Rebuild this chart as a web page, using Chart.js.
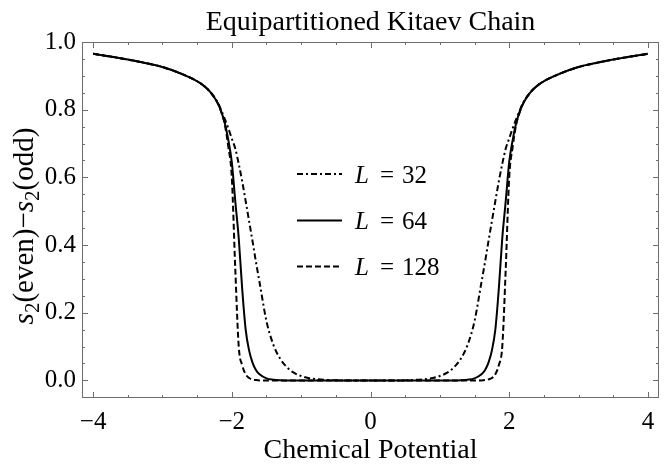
<!DOCTYPE html>
<html>
<head>
<meta charset="utf-8">
<script src="https://cdn.jsdelivr.net/npm/chart.js@4.4.1/dist/chart.umd.min.js"></script>
<style>
  body { margin: 0; background: #fff; }
  #wrap { width: 667px; height: 468px; position: relative; }
</style>
</head>
<body>
<div id="wrap"><canvas id="chart"></canvas></div>
<script>
// ---- data ----
const mu = [-4, -3.75, -3.5, -3.25, -3, -2.75, -2.5, -2.4, -2.3, -2.2, -2.15, -2.1, -2.05, -2, -1.95, -1.9, -1.85, -1.8, -1.75, -1.7, -1.65, -1.6, -1.5, -1.4, -1.3, -1.2, -1.1, -1, -0.9, -0.8, -0.6, -0.4, -0.2,
  0, 0.2, 0.4, 0.6, 0.8, 0.9, 1, 1.1, 1.2, 1.3, 1.4, 1.5, 1.6, 1.65, 1.7, 1.75, 1.8, 1.85, 1.9, 1.95, 2, 2.05, 2.1, 2.15, 2.2, 2.3, 2.4, 2.5, 2.75, 3, 3.25, 3.5, 3.75, 4];

const L32 = [0.965, 0.957, 0.948, 0.938, 0.926, 0.908, 0.884, 0.870, 0.850, 0.820, 0.797, 0.772, 0.745, 0.715, 0.685, 0.640, 0.588, 0.530, 0.470, 0.410, 0.348, 0.290, 0.175, 0.105, 0.063, 0.038, 0.022, 0.013, 0.007, 0.004, 0.001, 0, 0,
  0, 0, 0, 0.001, 0.004, 0.007, 0.013, 0.022, 0.038, 0.063, 0.105, 0.175, 0.290, 0.348, 0.410, 0.470, 0.530, 0.588, 0.640, 0.685, 0.715, 0.745, 0.772, 0.797, 0.820, 0.850, 0.870, 0.884, 0.908, 0.926, 0.938, 0.948, 0.957, 0.965];

const L64 = [0.965, 0.957, 0.948, 0.938, 0.926, 0.908, 0.884, 0.870, 0.850, 0.818, 0.793, 0.760, 0.710, 0.645, 0.530, 0.420, 0.270, 0.150, 0.088, 0.052, 0.030, 0.018, 0.006, 0.002, 0.0005, 0, 0, 0, 0, 0, 0, 0, 0,
  0, 0, 0, 0, 0, 0, 0, 0, 0, 0.0005, 0.002, 0.006, 0.018, 0.030, 0.052, 0.088, 0.150, 0.270, 0.420, 0.530, 0.645, 0.710, 0.760, 0.793, 0.818, 0.850, 0.870, 0.884, 0.908, 0.926, 0.938, 0.948, 0.957, 0.965];

const L128 = [0.965, 0.957, 0.948, 0.938, 0.926, 0.908, 0.884, 0.870, 0.850, 0.818, 0.792, 0.755, 0.690, 0.600, 0.330, 0.100, 0.045, 0.018, 0.007, 0.003, 0.001, 0, 0, 0, 0, 0, 0, 0, 0, 0, 0, 0, 0,
  0, 0, 0, 0, 0, 0, 0, 0, 0, 0, 0, 0, 0, 0.001, 0.003, 0.007, 0.018, 0.045, 0.100, 0.330, 0.600, 0.690, 0.755, 0.792, 0.818, 0.850, 0.870, 0.884, 0.908, 0.926, 0.938, 0.948, 0.957, 0.965];

const sizes = ['32', '64', '128'];
const xTicks = [-4, -2, 0, 2, 4];
const yTicks = [0, 0.2, 0.4, 0.6, 0.8, 1.0];

const SERIF = '"Liberation Serif", "Times New Roman", serif';

function pts(ys) {
    return mu.map((x, i) => ({ x: x, y: ys[i] }));
}

// frame, inward ticks, titles and the legend box (Mathematica style)
const decor = {
    id: 'decor',
    afterDatasetsDraw(chart) {
        const ctx = chart.ctx;
        const a = chart.chartArea;
        const xs = chart.scales.x, ys = chart.scales.y;
        ctx.save();

        // frame
        ctx.strokeStyle = '#6e6e6e';
        ctx.lineWidth = 1;
        ctx.strokeRect(a.left + 0.5, a.top + 0.5, a.right - a.left - 1, a.bottom - a.top - 1);

        // x ticks, minor every 0.5
        ctx.beginPath();
        for (let v = -4; v <= 4.001; v += 0.5) {
            const px = Math.round(xs.getPixelForValue(v)) + 0.5;
            const len = (Math.abs(v % 2) < 1e-6) ? 6 : 3;
            ctx.moveTo(px, a.bottom); ctx.lineTo(px, a.bottom - len);
            ctx.moveTo(px, a.top); ctx.lineTo(px, a.top + len);
        }
        // y ticks, minor every 0.05
        for (let k = -1; k <= 20; k++) {
            const v = k * 0.05;
            const py = Math.round(ys.getPixelForValue(v)) + 0.5;
            const len = (k % 4 === 0) ? 6 : 3;
            ctx.moveTo(a.left, py); ctx.lineTo(a.left + len, py);
            ctx.moveTo(a.right, py); ctx.lineTo(a.right - len, py);
        }
        ctx.stroke();

        ctx.fillStyle = '#000';
        // title
        ctx.font = '28px ' + SERIF;
        ctx.textAlign = 'center';
        ctx.textBaseline = 'alphabetic';
        ctx.fillText('Equipartitioned Kitaev Chain', (a.left + a.right) / 2, 30);

        // x title
        ctx.fillText('Chemical Potential', (a.left + a.right) / 2, 458);

        // y title: s2(even)-s2(odd) with italic s and subscript 2
        const parts = [
            { t: 's', f: 'italic 29px ' + SERIF, dy: 0 },
            { t: '2', f: '21px ' + SERIF, dy: 6 },
            { t: '(even)\u2212', f: '29px ' + SERIF, dy: 0 },
            { t: 's', f: 'italic 29px ' + SERIF, dy: 0 },
            { t: '2', f: '21px ' + SERIF, dy: 6 },
            { t: '(odd)', f: '29px ' + SERIF, dy: 0 }
        ];
        let total = 0;
        parts.forEach(p => { ctx.font = p.f; p.w = ctx.measureText(p.t).width; total += p.w; });
        ctx.save();
        ctx.translate(33, 226);
        ctx.rotate(-Math.PI / 2);
        ctx.textAlign = 'left';
        let cx = -total / 2;
        parts.forEach(p => { ctx.font = p.f; ctx.fillText(p.t, cx, p.dy); cx += p.w; });
        ctx.restore();

        // legend
        const rowsY = [174, 220.5, 266.5];
        const dashes = [[6, 3, 2, 3], [], [6, 3]];
        rowsY.forEach((y, i) => {
            ctx.beginPath();
            ctx.setLineDash(dashes[i]);
            ctx.lineWidth = 2;
            ctx.strokeStyle = '#000';
            ctx.moveTo(297, y); ctx.lineTo(342, y);
            ctx.stroke();
            ctx.setLineDash([]);
            ctx.textAlign = 'left';
            ctx.font = 'italic 25px ' + SERIF;
            ctx.fillText('L', 355, y + 8.5);
            ctx.font = '25px ' + SERIF;
            ctx.fillText('=', 380, y + 8.5);
            ctx.fillText(sizes[i], 402, y + 8.5);
        });

        ctx.restore();
    }
};

const ctx = document.getElementById('chart');

new Chart(ctx, {
    type: 'line',
    data: {
        datasets: [
            { label: 'L = 32', data: pts(L32), borderDash: [6, 3, 2, 3] },
            { label: 'L = 64', data: pts(L64), borderDash: [] },
            { label: 'L = 128', data: pts(L128), borderDash: [6, 3] }
        ].map(d => Object.assign(d, {
            borderColor: '#000',
            borderWidth: 2,
            pointRadius: 0,
            fill: false,
            cubicInterpolationMode: 'monotone'
        }))
    },
    plugins: [decor],
    options: {
        responsive: true,
        maintainAspectRatio: false,
        animation: false,
        layout: { padding: { top: 42, right: 8, left: 0, bottom: 0 } },
        plugins: {
            legend: { display: false },
            tooltip: { enabled: false }
        },
        scales: {
            x: {
                type: 'linear',
                min: -4.16,
                max: 4.16,
                afterBuildTicks: s => { s.ticks = xTicks.map(v => ({ value: v })); },
                afterFit: s => { s.height = 70; },
                grid: { display: false, tickLength: 0 },
                border: { display: false },
                ticks: {
                    color: '#000',
                    padding: 9,
                    maxRotation: 0,
                    font: { family: SERIF, size: 25 },
                    callback: v => v < 0 ? '\u2212' + Math.abs(v) : String(v)
                }
            },
            y: {
                type: 'linear',
                min: -0.052,
                max: 1.0,
                afterBuildTicks: s => { s.ticks = yTicks.map(v => ({ value: v })); },
                afterFit: s => { s.width = 82; },
                grid: { display: false, tickLength: 0 },
                border: { display: false },
                ticks: {
                    color: '#000',
                    padding: 6,
                    font: { family: SERIF, size: 25 },
                    callback: v => v.toFixed(1)
                }
            }
        }
    }
});
</script>
</body>
</html>
